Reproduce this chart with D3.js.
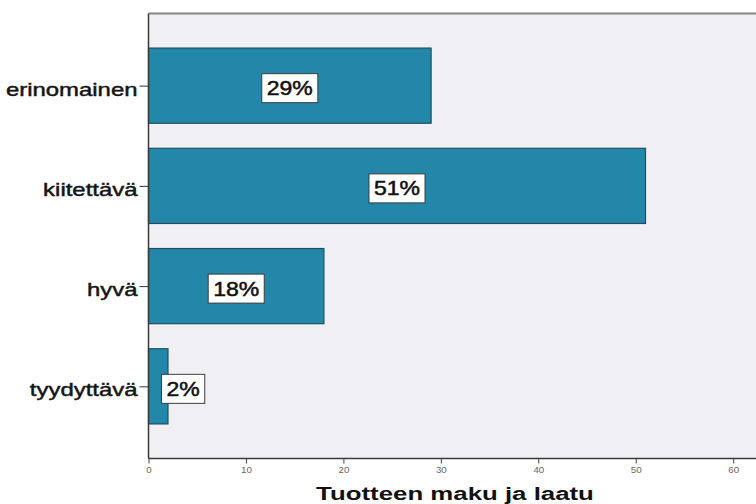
<!DOCTYPE html>
<html>
<head>
<meta charset="utf-8">
<script src="https://cdn.jsdelivr.net/npm/d3@7"></script>
<style>
  html, body { margin: 0; padding: 0; background: #ffffff; }
  svg { display: block; }
  text { font-family: "Liberation Sans", Arial, sans-serif; }
</style>
</head>
<body>
<svg id="chart" width="756" height="504"></svg>
<script>
// Rating categories and their share of answers (percent)
const categories = ["erinomainen", "kiitettävä", "hyvä", "tyydyttävä"];
const values = [29, 51, 18, 2];
const xTicks = [0, 10, 20, 30, 40, 50, 60];
const axisTitle = "Tuotteen maku ja laatu";

const svg = d3.select("#chart");
const W = 756, H = 504;
const plot = { left: 148.5, top: 13.5, bottom: 458.5 };
const stretch = 1.33; // wide text rendering

const x = d3.scaleLinear().domain([0, 63]).range([plot.left, plot.left + 63 * 9.745]);
const y = d3.scaleBand().domain(categories).range([plot.top, plot.bottom])
  .paddingInner(0.25).paddingOuter(0.345);

// plot background
svg.append("rect")
  .attr("x", plot.left).attr("y", plot.top)
  .attr("width", W - plot.left + 10).attr("height", plot.bottom - plot.top)
  .attr("fill", "#f0eff3");

// top frame line
svg.append("line")
  .attr("x1", plot.left).attr("x2", W + 5)
  .attr("y1", plot.top).attr("y2", plot.top)
  .attr("stroke", "#858585").attr("stroke-width", 2);

// bars
svg.selectAll("rect.bar").data(categories).enter().append("rect")
  .attr("class", "bar")
  .attr("x", x(0))
  .attr("y", d => y(d))
  .attr("width", (d, i) => x(values[i]) - x(0))
  .attr("height", y.bandwidth())
  .attr("fill", "#2387a9")
  .attr("stroke", "#1e4f60")
  .attr("stroke-width", 1.2);

// left axis line
svg.append("line")
  .attr("x1", plot.left).attr("x2", plot.left)
  .attr("y1", plot.top).attr("y2", plot.bottom)
  .attr("stroke", "#3a3a3a").attr("stroke-width", 1.5);

// category ticks and labels
categories.forEach(c => {
  const cy = y(c) + y.bandwidth() / 2;
  svg.append("line")
    .attr("x1", plot.left - 9).attr("x2", plot.left)
    .attr("y1", cy + 0.5).attr("y2", cy + 0.5)
    .attr("stroke", "#333").attr("stroke-width", 1);
  svg.append("text")
    .attr("transform", `translate(${plot.left - 11},${cy + 10}) scale(${stretch},1)`)
    .attr("text-anchor", "end")
    .attr("font-size", 18)
    .attr("fill", "#151515")
    .attr("stroke", "#151515").attr("stroke-width", 0.45)
    .text(c);
});

// bottom axis
const xAxis = d3.axisBottom(x).tickValues(xTicks).tickSize(5).tickSizeOuter(0);
const gx = svg.append("g")
  .attr("transform", `translate(0,${plot.bottom})`)
  .call(xAxis);
gx.select(".domain")
  .attr("d", `M${plot.left},0H${W + 5}`)
  .attr("stroke", "#3a3a3a").attr("stroke-width", 1.5);
gx.selectAll(".tick line").attr("stroke", "#444");
gx.selectAll(".tick text")
  .attr("y", null).attr("dy", null)
  .attr("transform", `translate(0,14) scale(1.15,1)`)
  .attr("font-size", 8.5)
  .attr("fill", "#666");

// value labels in boxes
const labelG = svg.append("g");
categories.forEach((c, i) => {
  const cy = y(c) + y.bandwidth() / 2 + 2.5;
  const label = values[i] + "%";
  const g = labelG.append("g");
  const t = g.append("text")
    .attr("text-anchor", "middle")
    .attr("font-size", 20)
    .attr("fill", "#111")
    .attr("stroke", "#111").attr("stroke-width", 0.5)
    .attr("transform", `scale(1.15,1)`)
    .attr("y", 7)
    .text(label);
  const tw = t.node().getComputedTextLength() * 1.15;
  const bw = tw + 10, bh = 29;
  let cx = (x(0) + x(values[i])) / 2;
  if (cx - bw / 2 < x(0) + 13) cx = x(0) + 13 + bw / 2;
  g.attr("transform", `translate(${cx},${cy})`);
  g.insert("rect", "text")
    .attr("x", -bw / 2).attr("y", -bh / 2)
    .attr("width", bw).attr("height", bh)
    .attr("fill", "#ffffff")
    .attr("stroke", "#3c3c3c").attr("stroke-width", 1);
});

// axis title
svg.append("text")
  .attr("transform", `translate(455,500) scale(1.36,1)`)
  .attr("text-anchor", "middle")
  .attr("font-size", 19)
  .attr("font-weight", "bold")
  .attr("fill", "#111")
  .text(axisTitle);
</script>
</body>
</html>
